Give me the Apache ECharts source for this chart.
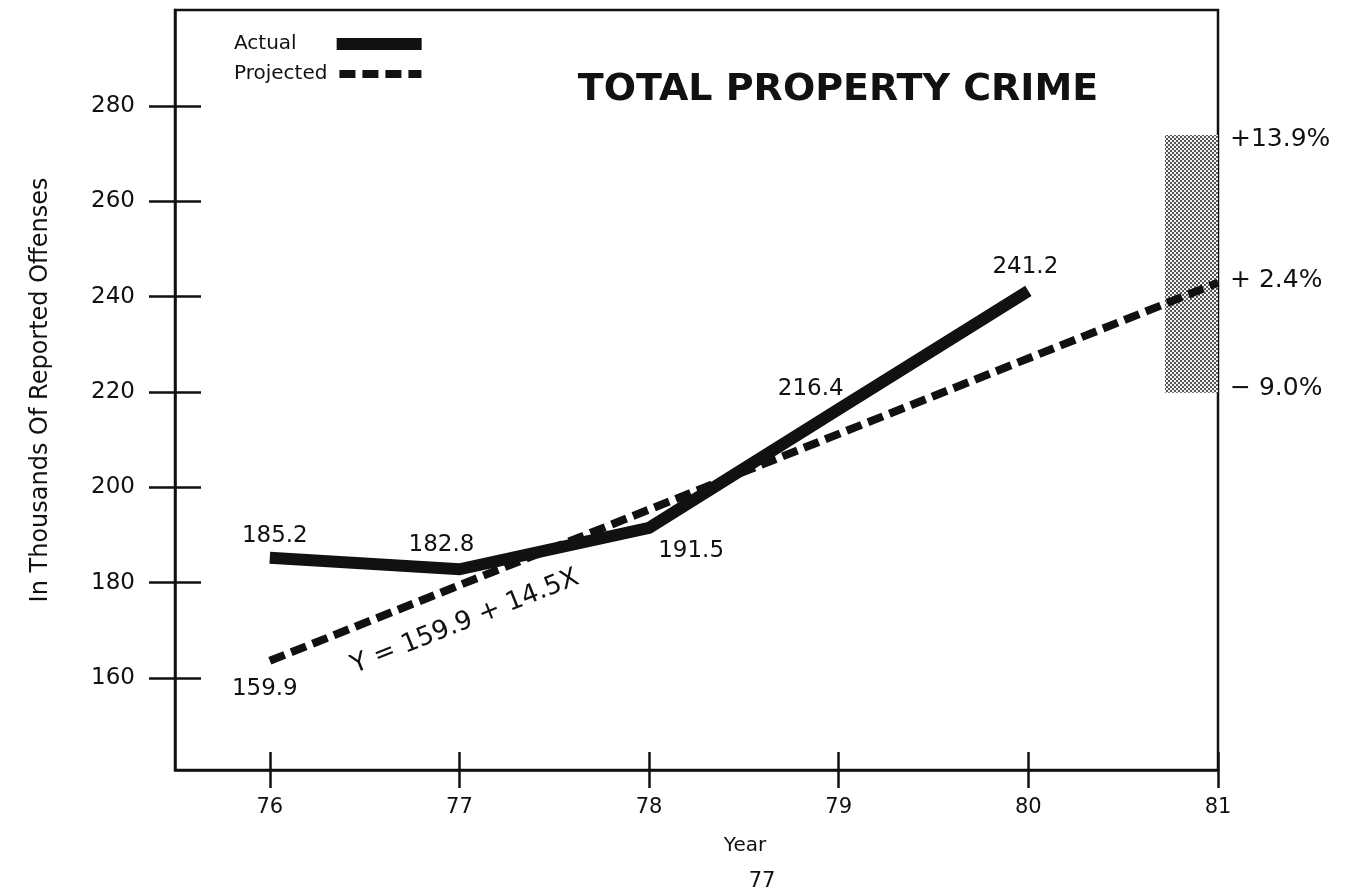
<!DOCTYPE html>
<html>
<head>
<meta charset="utf-8">
<script src="https://cdn.jsdelivr.net/npm/echarts@6/dist/echarts.min.js"></script>
<style>html,body{margin:0;padding:0;background:#fff;}#c{width:1368px;height:892px;}</style>
</head>
<body>
<div id="c"></div>
<script>
const years = [76, 77, 78, 79, 80];
const actualValues = [185.2, 182.8, 191.5, 216.4, 241.2];
const projectedYears = [76, 81];
const projectedValues = [163.6, 242.9];
const projectedLabels = ['159.9', ''];
const rangeYears = [80.72, 81];
const rangeValues = [219.8, 273.9];
const rangeLabels = ['+13.9%', '+ 2.4%', '\u2212 9.0%'];
const rangeLabelValues = [272.9, 243.3, 220.8];
const xTicks = [76, 77, 78, 79, 80, 81];
const yTicks = [160, 180, 200, 220, 240, 260, 280];
const equationText = 'Y = 159.9 + 14.5X';

const FONT = 'DejaVu Sans';
const actualLabelOffsets = [[5, -22], [-18, -24], [42, 23], [-28, -20], [-3, -24]];

// halftone pattern for the shaded range
const pat = document.createElement('canvas');
pat.width = 4; pat.height = 4;
const pg = pat.getContext('2d');
pg.fillStyle = '#f4f4f4'; pg.fillRect(0, 0, 4, 4);
pg.fillStyle = '#555555'; pg.fillRect(0, 0, 2, 2); pg.fillRect(2, 2, 2, 2);

const chart = echarts.init(document.getElementById('c'));
const xMin = 75.5, xMax = 81, yMin = 140.7, yMax = 300.1;

const baseX = {type: 'value', min: xMin, max: xMax, splitLine: {show: false}};
const baseY = {type: 'value', min: yMin, max: yMax, splitLine: {show: false}};

chart.setOption({
  animation: false,
  backgroundColor: '#fff',
  grid: {left: 175, right: 150, top: 10, bottom: 122, show: true, borderColor: '#111', borderWidth: 2.5},
  legend: [
    {data: ['Actual'], left: 229, top: 29, align: 'right', itemWidth: 85, itemHeight: 14,
     textStyle: {fontFamily: FONT, fontSize: 20, color: '#111', padding: [0, 35, 0, 0]},
     itemStyle: {opacity: 0}, lineStyle: {width: 12}},
    {data: ['Projected'], left: 229, top: 59, align: 'right', itemWidth: 82, itemHeight: 14,
     textStyle: {fontFamily: FONT, fontSize: 20, color: '#111', padding: [0, 7, 0, 0]},
     itemStyle: {opacity: 0}, lineStyle: {width: 8}}
  ],
  xAxis: [
    Object.assign({}, baseX, {
      position: 'bottom',
      axisLine: {show: true, onZero: false, lineStyle: {color: '#111', width: 2.5}},
      axisTick: {show: true, inside: false, length: 18, customValues: xTicks, lineStyle: {color: '#111', width: 2.5}},
      axisLabel: {show: true, customValues: xTicks, margin: 27, fontFamily: FONT, fontSize: 21, color: '#111'}
    }),
    Object.assign({}, baseX, {
      position: 'bottom',
      axisLine: {show: false},
      axisTick: {show: true, inside: true, length: 18, customValues: xTicks, lineStyle: {color: '#111', width: 2.5}},
      axisLabel: {show: false}
    })
  ],
  yAxis: [
    Object.assign({}, baseY, {
      position: 'left',
      axisLine: {show: true, onZero: false, lineStyle: {color: '#111', width: 2.5}},
      axisTick: {show: true, inside: false, length: 26, customValues: yTicks, lineStyle: {color: '#111', width: 2.5}},
      axisLabel: {show: true, customValues: yTicks, margin: 40, fontFamily: FONT, fontSize: 23, color: '#111'},
      name: 'In Thousands Of Reported Offenses', nameLocation: 'middle', nameGap: 122, nameRotate: 90,
      nameTextStyle: {fontFamily: FONT, fontSize: 24, color: '#111'}
    }),
    Object.assign({}, baseY, {
      position: 'left',
      axisLine: {show: false},
      axisTick: {show: true, inside: true, length: 26, customValues: yTicks, lineStyle: {color: '#111', width: 2.5}},
      axisLabel: {show: false}
    })
  ],
  series: [
    {
      name: 'Range', type: 'line', data: [], xAxisIndex: 0, yAxisIndex: 0,
      markArea: {
        silent: true,
        itemStyle: {color: {image: pat, repeat: 'repeat'}, borderWidth: 0},
        data: [[{coord: [rangeYears[0], rangeValues[0]]}, {coord: [rangeYears[1], rangeValues[1]]}]]
      },
      markPoint: {
        symbol: 'circle', symbolSize: 0,
        label: {show: true, position: 'right', distance: 12, fontFamily: FONT, fontSize: 25, color: '#111',
          formatter: p => p.name},
        data: rangeLabels.map((t, i) => ({name: t, coord: [xMax, rangeLabelValues[i]]}))
      }
    },
    {
      name: 'Projected', type: 'line', xAxisIndex: 0, yAxisIndex: 0,
      data: projectedYears.map((x, i) => [x, projectedValues[i]]),
      symbol: 'circle', symbolSize: 0, showSymbol: true,
      lineStyle: {color: '#111', width: 8, type: [16, 7], cap: 'butt'},
      itemStyle: {color: '#111'},
      label: {show: true, position: 'inside', offset: [-5, 28], fontFamily: FONT, fontSize: 23, color: '#111',
        formatter: p => projectedLabels[p.dataIndex]},
      z: 3
    },
    {
      name: 'Actual', type: 'line', xAxisIndex: 0, yAxisIndex: 0,
      data: years.map((x, i) => ({
        value: [x, actualValues[i]],
        label: {offset: actualLabelOffsets[i]}
      })),
      symbol: 'circle', symbolSize: 0, showSymbol: true,
      lineStyle: {color: '#111', width: 12, cap: 'butt', join: 'miter'},
      itemStyle: {color: '#111'},
      label: {show: true, position: 'inside', fontFamily: FONT, fontSize: 23, color: '#111',
        formatter: p => actualValues[p.dataIndex].toFixed(1)},
      z: 4
    }
  ],
  graphic: [
    {type: 'text', x: 838, y: 90, style: {text: 'TOTAL PROPERTY CRIME', fontFamily: FONT, fontWeight: 'bold', fontSize: 38, fill: '#111', align: 'center', verticalAlign: 'middle'}},
    {type: 'text', x: 465, y: 622, rotation: 0.38, style: {text: equationText, fontFamily: FONT, fontSize: 26, fill: '#111', align: 'center', verticalAlign: 'middle'}},
    {type: 'text', x: 745, y: 846, style: {text: 'Year', fontFamily: FONT, fontSize: 20, fill: '#111', align: 'center', verticalAlign: 'middle'}},
    {type: 'text', x: 762, y: 882, style: {text: '77', fontFamily: FONT, fontSize: 21, fill: '#111', align: 'center', verticalAlign: 'middle'}}
  ]
});
</script>
</body>
</html>
